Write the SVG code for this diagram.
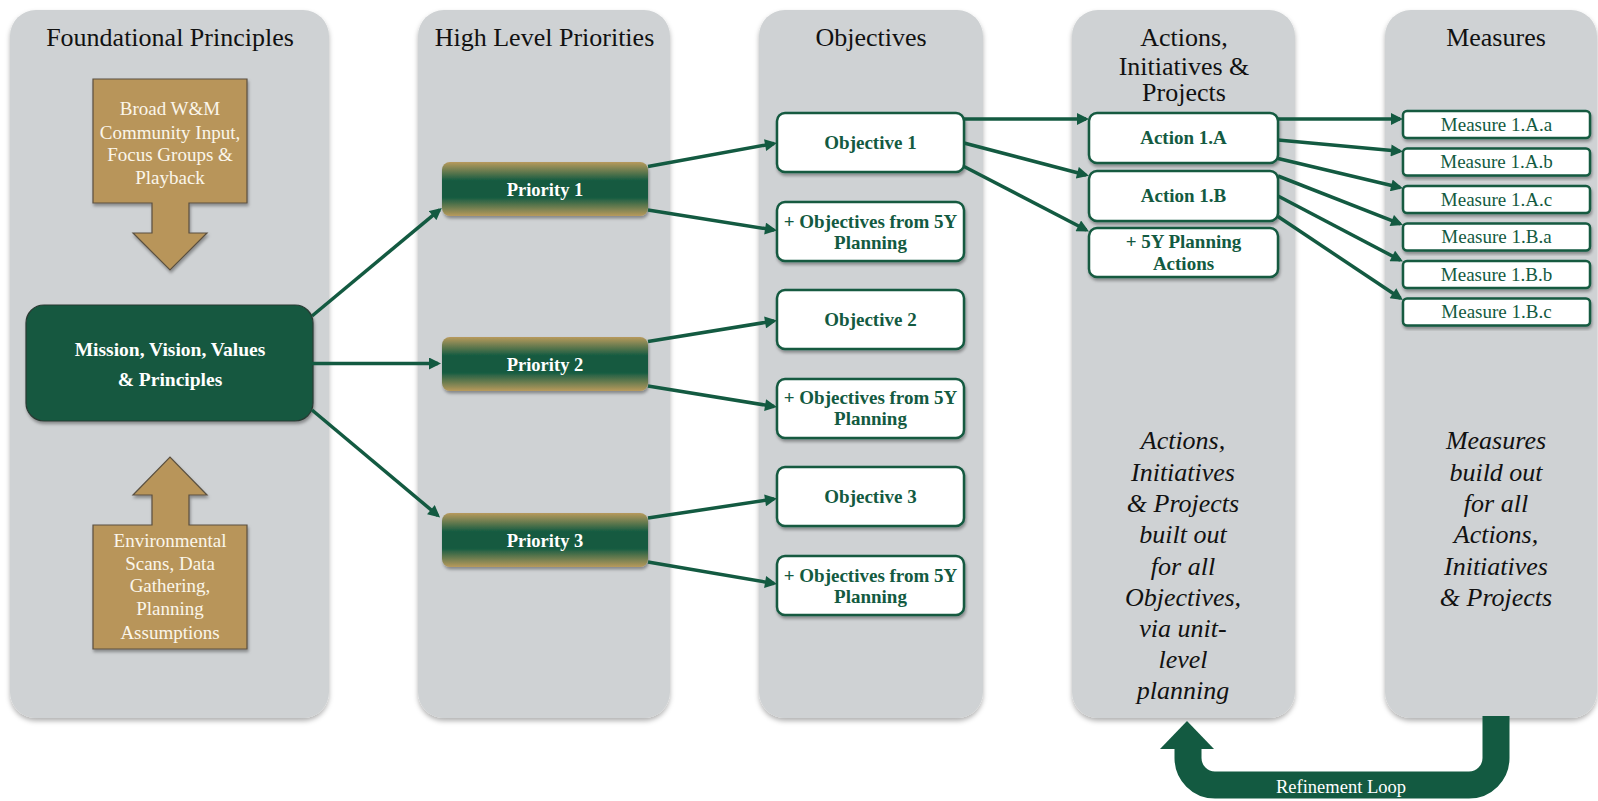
<svg xmlns="http://www.w3.org/2000/svg" width="1598" height="801" viewBox="0 0 1598 801">
  <defs>
    <style>
      .col { fill: #cfd2d4; filter: url(#sh); }
      .hdr { font-family: "Liberation Serif", "Times New Roman", serif; font-size: 26px; fill: #111; text-anchor: middle; }
      .ital { font-family: "Liberation Serif", "Times New Roman", serif; font-size: 26px; font-style: italic; fill: #111; text-anchor: middle; }
      .gold { fill: #b8955a; stroke: #5a5040; stroke-width: 1.2; filter: url(#sh2); }
      .goldtxt { font-family: "Liberation Serif", "Times New Roman", serif; font-size: 19px; fill: #fbf6ea; text-anchor: middle; }
      .wbox { fill: #ffffff; stroke: #135a41; stroke-width: 2.5; filter: url(#sh2); }
      .btxt { font-family: "Liberation Serif", "Times New Roman", serif; font-size: 19px; font-weight: bold; fill: #135a41; text-anchor: middle; }
      .wtxt { font-family: "Liberation Serif", "Times New Roman", serif; font-size: 18.5px; font-weight: bold; fill: #ffffff; text-anchor: middle; }
      .mtxt { font-family: "Liberation Serif", "Times New Roman", serif; font-size: 19px; fill: #135a41; text-anchor: middle; }
      .conn { stroke: #135a41; stroke-width: 3.5; fill: none; marker-end: url(#ah); }
    </style>
    <filter id="sh" x="-5%" y="-5%" width="110%" height="110%">
      <feDropShadow dx="0" dy="3" stdDeviation="2.5" flood-color="#000" flood-opacity="0.3"/>
    </filter>
    <filter id="sh2" x="-10%" y="-10%" width="120%" height="130%">
      <feDropShadow dx="1" dy="2.5" stdDeviation="1.5" flood-color="#000" flood-opacity="0.35"/>
    </filter>
    <linearGradient id="pg" x1="0" y1="0" x2="0" y2="1">
      <stop offset="0" stop-color="#b89a5c"/>
      <stop offset="0.35" stop-color="#135a41"/>
      <stop offset="0.65" stop-color="#135a41"/>
      <stop offset="1" stop-color="#b89a5c"/>
    </linearGradient>
    <marker id="ah" viewBox="0 0 12 12" refX="9" refY="6" markerWidth="13" markerHeight="12" markerUnits="userSpaceOnUse" orient="auto">
      <path d="M0,0 L12,6 L0,12 z" fill="#135a41"/>
    </marker>
  </defs>

  <rect width="1598" height="801" fill="#ffffff"/>

  <!-- Columns -->
  <g id="col-foundational">
    <rect class="col" x="10" y="10" width="319" height="708" rx="26"/>
    <text class="hdr" x="170" y="46">Foundational Principles</text>
  </g>
  <g id="col-priorities">
    <rect class="col" x="418" y="10" width="252" height="708" rx="26"/>
    <text class="hdr" x="544.5" y="46">High Level Priorities</text>
  </g>
  <g id="col-objectives">
    <rect class="col" x="759" y="10" width="224" height="708" rx="26"/>
    <text class="hdr" x="871" y="46">Objectives</text>
  </g>
  <g id="col-actions">
    <rect class="col" x="1072" y="10" width="223" height="708" rx="26"/>
    <text class="hdr" x="1184" y="46">Actions,</text>
    <text class="hdr" x="1184" y="75">Initiatives &amp;</text>
    <text class="hdr" x="1184" y="101">Projects</text>
    <text class="ital" x="1183" y="449">Actions,</text>
    <text class="ital" x="1183" y="481">Initiatives</text>
    <text class="ital" x="1183" y="512">&amp; Projects</text>
    <text class="ital" x="1183" y="543">built out</text>
    <text class="ital" x="1183" y="575">for all</text>
    <text class="ital" x="1183" y="606">Objectives,</text>
    <text class="ital" x="1183" y="637">via unit-</text>
    <text class="ital" x="1183" y="668">level</text>
    <text class="ital" x="1183" y="699">planning</text>
  </g>
  <g id="col-measures">
    <rect class="col" x="1385" y="10" width="212" height="708" rx="26"/>
    <text class="hdr" x="1496" y="46">Measures</text>
    <text class="ital" x="1496" y="449">Measures</text>
    <text class="ital" x="1496" y="481">build out</text>
    <text class="ital" x="1496" y="512">for all</text>
    <text class="ital" x="1496" y="543">Actions,</text>
    <text class="ital" x="1496" y="575">Initiatives</text>
    <text class="ital" x="1496" y="606">&amp; Projects</text>
  </g>

  <!-- Refinement loop -->
  <g id="refinement-loop">
    <path d="M1496,716 V758 A27,27 0 0 1 1469,785 H1215 A27,27 0 0 1 1188,758 V746" fill="none" stroke="#135a41" stroke-width="27"/>
    <polygon points="1160,749 1214,749 1187,721" fill="#135a41"/>
    <text x="1341" y="793" font-family="Liberation Serif, Times New Roman, serif" font-size="18.5px" fill="#ffffff" text-anchor="middle">Refinement Loop</text>
  </g>

  <!-- Gold arrows -->
  <g id="community-input">
    <path class="gold" d="M93,79 H247 V203 H189 V233 H207 L170,270 L133,233 H152 V203 H93 Z"/>
    <text class="goldtxt" x="170" y="115">Broad W&amp;M</text>
    <text class="goldtxt" x="170" y="139">Community Input,</text>
    <text class="goldtxt" x="170" y="161">Focus Groups &amp;</text>
    <text class="goldtxt" x="170" y="184">Playback</text>
  </g>
  <g id="environmental-scans">
    <path class="gold" d="M93,525 H152 V495 H133 L170,457 L207,495 H189 V525 H247 V649 H93 Z"/>
    <text class="goldtxt" x="170" y="547">Environmental</text>
    <text class="goldtxt" x="170" y="570">Scans, Data</text>
    <text class="goldtxt" x="170" y="592">Gathering,</text>
    <text class="goldtxt" x="170" y="615">Planning</text>
    <text class="goldtxt" x="170" y="639">Assumptions</text>
  </g>

  <!-- Mission -->
  <g id="mission">
    <rect x="26" y="305" width="287" height="116" rx="18" fill="#135841" stroke="#2a3a33" stroke-width="1.2" filter="url(#sh2)"/>
    <text class="wtxt" x="170" y="356" style="font-size:19.5px">Mission, Vision, Values</text>
    <text class="wtxt" x="170" y="386" style="font-size:19.5px">&amp; Principles</text>
  </g>

  <!-- Priorities -->
  <g id="priority-1">
    <rect x="442" y="162" width="206" height="54" rx="8" fill="url(#pg)" filter="url(#sh2)"/>
    <text class="wtxt" x="545" y="196">Priority 1</text>
  </g>
  <g id="priority-2">
    <rect x="442" y="337" width="206" height="54" rx="8" fill="url(#pg)" filter="url(#sh2)"/>
    <text class="wtxt" x="545" y="371">Priority 2</text>
  </g>
  <g id="priority-3">
    <rect x="442" y="513" width="206" height="54" rx="8" fill="url(#pg)" filter="url(#sh2)"/>
    <text class="wtxt" x="545" y="547">Priority 3</text>
  </g>

  <!-- Objectives -->
  <g id="objective-1">
    <rect class="wbox" x="777" y="113" width="187" height="59" rx="8"/>
    <text class="btxt" x="870.5" y="149">Objective 1</text>
  </g>
  <g id="objectives-5y-1">
    <rect class="wbox" x="777" y="202" width="187" height="59" rx="8"/>
    <text class="btxt" x="870.5" y="228">+ Objectives from 5Y</text>
    <text class="btxt" x="870.5" y="249">Planning</text>
  </g>
  <g id="objective-2">
    <rect class="wbox" x="777" y="290" width="187" height="59" rx="8"/>
    <text class="btxt" x="870.5" y="326">Objective 2</text>
  </g>
  <g id="objectives-5y-2">
    <rect class="wbox" x="777" y="379" width="187" height="59" rx="8"/>
    <text class="btxt" x="870.5" y="404">+ Objectives from 5Y</text>
    <text class="btxt" x="870.5" y="425">Planning</text>
  </g>
  <g id="objective-3">
    <rect class="wbox" x="777" y="467" width="187" height="59" rx="8"/>
    <text class="btxt" x="870.5" y="503">Objective 3</text>
  </g>
  <g id="objectives-5y-3">
    <rect class="wbox" x="777" y="556" width="187" height="59" rx="8"/>
    <text class="btxt" x="870.5" y="582">+ Objectives from 5Y</text>
    <text class="btxt" x="870.5" y="603">Planning</text>
  </g>

  <!-- Actions -->
  <g id="action-1a">
    <rect class="wbox" x="1089" y="113" width="189" height="50" rx="8"/>
    <text class="btxt" x="1183.5" y="144">Action 1.A</text>
  </g>
  <g id="action-1b">
    <rect class="wbox" x="1089" y="171" width="189" height="50" rx="8"/>
    <text class="btxt" x="1183.5" y="202">Action 1.B</text>
  </g>
  <g id="actions-5y">
    <rect class="wbox" x="1089" y="228" width="189" height="49" rx="8"/>
    <text class="btxt" x="1183.5" y="248">+ 5Y Planning</text>
    <text class="btxt" x="1183.5" y="270">Actions</text>
  </g>

  <!-- Measures -->
  <g id="measure-1aa">
    <rect class="wbox" x="1403" y="111" width="187" height="27" rx="4"/>
    <text class="mtxt" x="1496.5" y="130.5">Measure 1.A.a</text>
  </g>
  <g id="measure-1ab">
    <rect class="wbox" x="1403" y="148.5" width="187" height="27" rx="4"/>
    <text class="mtxt" x="1496.5" y="168">Measure 1.A.b</text>
  </g>
  <g id="measure-1ac">
    <rect class="wbox" x="1403" y="186" width="187" height="27" rx="4"/>
    <text class="mtxt" x="1496.5" y="205.5">Measure 1.A.c</text>
  </g>
  <g id="measure-1ba">
    <rect class="wbox" x="1403" y="223.5" width="187" height="27" rx="4"/>
    <text class="mtxt" x="1496.5" y="243">Measure 1.B.a</text>
  </g>
  <g id="measure-1bb">
    <rect class="wbox" x="1403" y="261" width="187" height="27" rx="4"/>
    <text class="mtxt" x="1496.5" y="280.5">Measure 1.B.b</text>
  </g>
  <g id="measure-1bc">
    <rect class="wbox" x="1403" y="298.5" width="187" height="27" rx="4"/>
    <text class="mtxt" x="1496.5" y="318">Measure 1.B.c</text>
  </g>

  <!-- Connectors -->
  <g id="connectors">
    <line class="conn" x1="312" y1="316" x2="439.5" y2="209.8"/>
    <line class="conn" x1="312" y1="363.5" x2="438" y2="363.5"/>
    <line class="conn" x1="312" y1="410" x2="437.8" y2="515.5"/>

    <line class="conn" x1="648" y1="166.5" x2="774" y2="143.5"/>
    <line class="conn" x1="648" y1="210" x2="774" y2="230"/>
    <line class="conn" x1="648" y1="341.5" x2="774" y2="321"/>
    <line class="conn" x1="648" y1="386" x2="774" y2="406.5"/>
    <line class="conn" x1="648" y1="518" x2="774" y2="499"/>
    <line class="conn" x1="648" y1="562" x2="774" y2="583.5"/>

    <line class="conn" x1="964" y1="119" x2="1086" y2="119"/>
    <line class="conn" x1="964" y1="143" x2="1086" y2="175"/>
    <line class="conn" x1="964" y1="166.5" x2="1086.3" y2="230"/>

    <line class="conn" x1="1278" y1="119" x2="1400" y2="119"/>
    <line class="conn" x1="1278" y1="140" x2="1400" y2="151.3"/>
    <line class="conn" x1="1278" y1="158.5" x2="1400" y2="187.5"/>
    <line class="conn" x1="1278" y1="176" x2="1400.2" y2="223.8"/>
    <line class="conn" x1="1278" y1="196" x2="1400.3" y2="260.2"/>
    <line class="conn" x1="1278" y1="216.5" x2="1400.4" y2="298.3"/>
  </g>
</svg>
